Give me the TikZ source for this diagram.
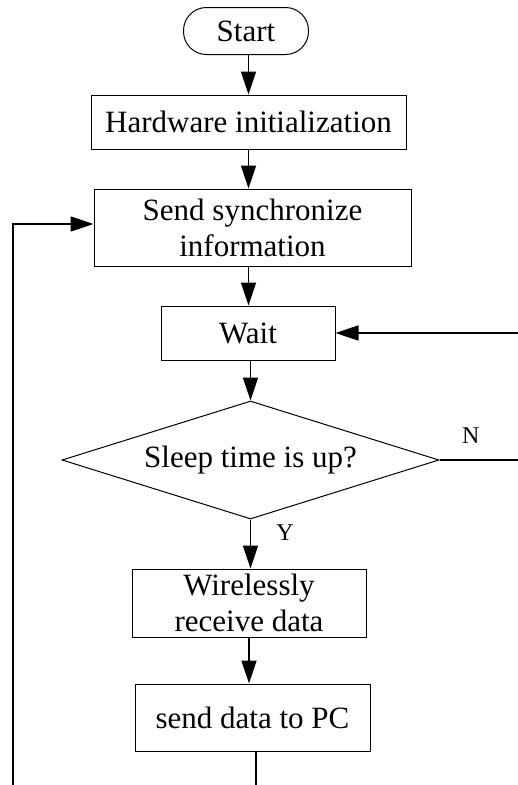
\documentclass[tikz,border=0pt]{standalone}
\usepackage{fontspec}
\setmainfont{Liberation Serif}
\usetikzlibrary{arrows.meta,shapes.geometric}

\tikzset{
    khoi/.style={draw, line width=1pt, inner sep=0pt, align=center},
    batdau/.style={khoi, rounded corners=23pt},
    thoai/.style={draw, line width=1pt, diamond, aspect=3.2, inner sep=0pt},
    noi/.style={line width=1.6pt},
    nhan/.style={font=\fontsize{24}{28}\selectfont}
}

\begin{document}
\begin{tikzpicture}[>={Triangle[length=23pt,width=15pt]}, x=1pt, y=-1pt,
    font=\fontsize{31}{36}\selectfont]
    \useasboundingbox (0,0) rectangle (518,785);

    % Các khối
    \node[batdau, minimum width=125pt, minimum height=47pt] (start) at (246,31) {Start};
    \node[khoi, minimum width=315pt, minimum height=54pt] (init) at (248.5,122) {Hardware initialization};
    \node[khoi, minimum width=317pt, minimum height=77pt] (sync) at (252.5,227.5) {Send synchronize\\information};
    \node[khoi, minimum width=174pt, minimum height=54pt] (wait) at (248,333) {Wait};
    \node[thoai, minimum width=377pt, minimum height=118pt] (sleep) at (250.5,460) {Sleep time is up?};
    \node[khoi, minimum width=234pt, minimum height=68pt] (recv) at (249,603) {Wirelessly\\receive data};
    \node[khoi, minimum width=235pt, minimum height=67pt] (send) at (252.5,717.5) {send data to PC};

    % Đầu mút tự do
    \coordinate (phai) at (518,460);
    \coordinate (phaiw) at (518,333);
    \coordinate (day) at (256,785);
    \coordinate (trai) at (13,785);
    \coordinate (traitren) at (13,224);

    % Mũi tên
    \draw[noi, ->] (start.south -| init.north) -- (init.north);
    \draw[noi, ->] (init.south) -- (init.south |- sync.north);
    \draw[noi, ->] (init.south |- sync.south) -- (init.south |- wait.north);
    \draw[noi, ->] (wait.south -| sleep.north) -- (sleep.north);
    \draw[noi, ->] (sleep.south) -- (sleep.south |- recv.north);
    \draw[noi, ->] (recv.south) -- (recv.south |- send.north);
    \draw[noi] (sleep.east) -- (phai) node[nhan, pos=0.4, above=12pt] {N};
    \draw[noi, ->] (phaiw) -- (wait.east);
    \draw[noi] (send.south -| day) -- (day);
    \draw[noi, ->] (trai) -- (traitren) -- (traitren -| sync.west);
    \node[nhan] (y) at (285,533) {Y};
\end{tikzpicture}
\end{document}
